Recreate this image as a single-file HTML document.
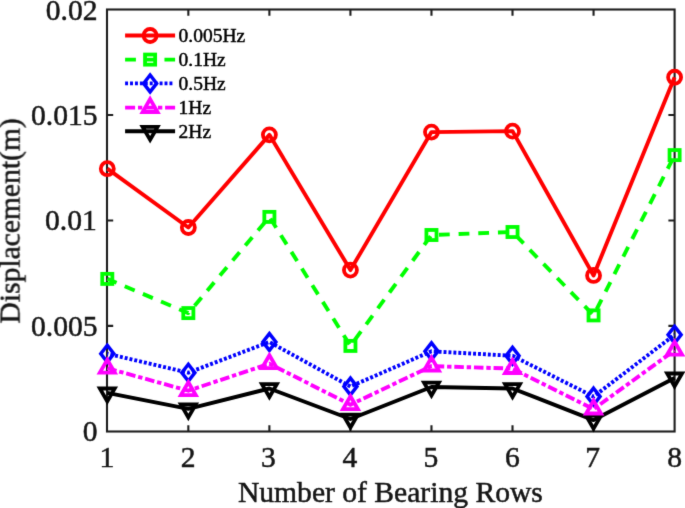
<!DOCTYPE html>
<html><head><meta charset="utf-8"><style>
html,body{margin:0;padding:0;background:#fff;}
svg{display:block;font-family:"Liberation Serif",serif;}
</style></head><body>
<svg width="685" height="508" viewBox="0 0 685 508">
<defs><filter id="bl" x="0" y="0" width="685" height="508" filterUnits="userSpaceOnUse" color-interpolation-filters="sRGB"><feConvolveMatrix order="3" kernelMatrix="0.0100 0.0800 0.0100 0.0800 0.6400 0.0800 0.0100 0.0800 0.0100" edgeMode="duplicate"/></filter></defs>
<rect width="685" height="508" fill="#fff"/>
<g filter="url(#bl)">
<rect x="107.0" y="9.5" width="567.60" height="422.00" fill="#fff" stroke="#1e1e1e" stroke-width="2.1"/>
<path d="M188.34,431.5V425.3M188.34,9.5V15.7M269.39,431.5V425.3M269.39,9.5V15.7M350.43,431.5V425.3M350.43,9.5V15.7M431.47,431.5V425.3M431.47,9.5V15.7M512.51,431.5V425.3M512.51,9.5V15.7M593.56,431.5V425.3M593.56,9.5V15.7M107.0,325.92H113.2M674.6,325.92H668.4M107.0,220.45H113.2M674.6,220.45H668.4M107.0,114.98H113.2M674.6,114.98H668.4" stroke="#1e1e1e" stroke-width="2.1" fill="none"/>
<polyline points="107.30,168.70 188.34,227.50 269.39,134.85 350.43,270.10 431.47,132.10 512.51,131.15 593.56,275.45 674.60,77.25" fill="none" stroke="#ff0000" stroke-width="3.9" stroke-linejoin="round"/>
<circle cx="107.30" cy="168.70" r="6.5" fill="none" stroke="#ff0000" stroke-width="3.8" stroke-linejoin="miter" stroke-miterlimit="10"/>
<circle cx="188.34" cy="227.50" r="6.5" fill="none" stroke="#ff0000" stroke-width="3.8" stroke-linejoin="miter" stroke-miterlimit="10"/>
<circle cx="269.39" cy="134.85" r="6.5" fill="none" stroke="#ff0000" stroke-width="3.8" stroke-linejoin="miter" stroke-miterlimit="10"/>
<circle cx="350.43" cy="270.10" r="6.5" fill="none" stroke="#ff0000" stroke-width="3.8" stroke-linejoin="miter" stroke-miterlimit="10"/>
<circle cx="431.47" cy="132.10" r="6.5" fill="none" stroke="#ff0000" stroke-width="3.8" stroke-linejoin="miter" stroke-miterlimit="10"/>
<circle cx="512.51" cy="131.15" r="6.5" fill="none" stroke="#ff0000" stroke-width="3.8" stroke-linejoin="miter" stroke-miterlimit="10"/>
<circle cx="593.56" cy="275.45" r="6.5" fill="none" stroke="#ff0000" stroke-width="3.8" stroke-linejoin="miter" stroke-miterlimit="10"/>
<circle cx="674.60" cy="77.25" r="6.5" fill="none" stroke="#ff0000" stroke-width="3.8" stroke-linejoin="miter" stroke-miterlimit="10"/>
<polyline points="107.30,278.90 188.34,313.10 269.39,216.90 350.43,345.90 431.47,235.00 512.51,232.00 593.56,315.40 674.60,155.10" fill="none" stroke="#00ff00" stroke-width="3.9" stroke-linejoin="round" stroke-dasharray="10.8 8.88" stroke-dashoffset="0.75"/>
<rect x="102.25" y="273.85" width="10.1" height="10.1" fill="none" stroke="#00ff00" stroke-width="3.8" stroke-linejoin="miter" stroke-miterlimit="10"/>
<rect x="183.29" y="308.05" width="10.1" height="10.1" fill="none" stroke="#00ff00" stroke-width="3.8" stroke-linejoin="miter" stroke-miterlimit="10"/>
<rect x="264.34" y="211.85" width="10.1" height="10.1" fill="none" stroke="#00ff00" stroke-width="3.8" stroke-linejoin="miter" stroke-miterlimit="10"/>
<rect x="345.38" y="340.85" width="10.1" height="10.1" fill="none" stroke="#00ff00" stroke-width="3.8" stroke-linejoin="miter" stroke-miterlimit="10"/>
<rect x="426.42" y="229.95" width="10.1" height="10.1" fill="none" stroke="#00ff00" stroke-width="3.8" stroke-linejoin="miter" stroke-miterlimit="10"/>
<rect x="507.46" y="226.95" width="10.1" height="10.1" fill="none" stroke="#00ff00" stroke-width="3.8" stroke-linejoin="miter" stroke-miterlimit="10"/>
<rect x="588.51" y="310.35" width="10.1" height="10.1" fill="none" stroke="#00ff00" stroke-width="3.8" stroke-linejoin="miter" stroke-miterlimit="10"/>
<rect x="669.55" y="150.05" width="10.1" height="10.1" fill="none" stroke="#00ff00" stroke-width="3.8" stroke-linejoin="miter" stroke-miterlimit="10"/>
<polyline points="107.30,353.70 188.34,372.70 269.39,342.00 350.43,386.50 431.47,351.30 512.51,355.80 593.56,396.60 674.60,334.80" fill="none" stroke="#0000ff" stroke-width="3.9" stroke-linejoin="round" stroke-dasharray="2.95 1.978" stroke-dashoffset="1.856"/>
<path d="M107.30,345.30L113.80,353.70L107.30,362.10L100.80,353.70Z" fill="none" stroke="#0000ff" stroke-width="3.5" stroke-linejoin="miter" stroke-miterlimit="10"/>
<path d="M188.34,364.30L194.84,372.70L188.34,381.10L181.84,372.70Z" fill="none" stroke="#0000ff" stroke-width="3.5" stroke-linejoin="miter" stroke-miterlimit="10"/>
<path d="M269.39,333.60L275.89,342.00L269.39,350.40L262.89,342.00Z" fill="none" stroke="#0000ff" stroke-width="3.5" stroke-linejoin="miter" stroke-miterlimit="10"/>
<path d="M350.43,378.10L356.93,386.50L350.43,394.90L343.93,386.50Z" fill="none" stroke="#0000ff" stroke-width="3.5" stroke-linejoin="miter" stroke-miterlimit="10"/>
<path d="M431.47,342.90L437.97,351.30L431.47,359.70L424.97,351.30Z" fill="none" stroke="#0000ff" stroke-width="3.5" stroke-linejoin="miter" stroke-miterlimit="10"/>
<path d="M512.51,347.40L519.01,355.80L512.51,364.20L506.01,355.80Z" fill="none" stroke="#0000ff" stroke-width="3.5" stroke-linejoin="miter" stroke-miterlimit="10"/>
<path d="M593.56,388.20L600.06,396.60L593.56,405.00L587.06,396.60Z" fill="none" stroke="#0000ff" stroke-width="3.5" stroke-linejoin="miter" stroke-miterlimit="10"/>
<path d="M674.60,326.40L681.10,334.80L674.60,343.20L668.10,334.80Z" fill="none" stroke="#0000ff" stroke-width="3.5" stroke-linejoin="miter" stroke-miterlimit="10"/>
<polyline points="107.30,392.90 188.34,408.90 269.39,388.50 350.43,419.00 431.47,387.00 512.51,388.50 593.56,420.10 674.60,377.90" fill="none" stroke="#000000" stroke-width="3.9" stroke-linejoin="round"/>
<path d="M107.30,401.40L114.75,388.50L99.85,388.50Z" fill="none" stroke="#000000" stroke-width="3.8" stroke-linejoin="miter" stroke-miterlimit="10"/>
<path d="M188.34,417.40L195.79,404.50L180.89,404.50Z" fill="none" stroke="#000000" stroke-width="3.8" stroke-linejoin="miter" stroke-miterlimit="10"/>
<path d="M269.39,397.00L276.84,384.10L261.94,384.10Z" fill="none" stroke="#000000" stroke-width="3.8" stroke-linejoin="miter" stroke-miterlimit="10"/>
<path d="M350.43,427.50L357.88,414.60L342.98,414.60Z" fill="none" stroke="#000000" stroke-width="3.8" stroke-linejoin="miter" stroke-miterlimit="10"/>
<path d="M431.47,395.50L438.92,382.60L424.02,382.60Z" fill="none" stroke="#000000" stroke-width="3.8" stroke-linejoin="miter" stroke-miterlimit="10"/>
<path d="M512.51,397.00L519.96,384.10L505.06,384.10Z" fill="none" stroke="#000000" stroke-width="3.8" stroke-linejoin="miter" stroke-miterlimit="10"/>
<path d="M593.56,428.60L601.01,415.70L586.11,415.70Z" fill="none" stroke="#000000" stroke-width="3.8" stroke-linejoin="miter" stroke-miterlimit="10"/>
<path d="M674.60,386.40L682.05,373.50L667.15,373.50Z" fill="none" stroke="#000000" stroke-width="3.8" stroke-linejoin="miter" stroke-miterlimit="10"/>
<polyline points="107.30,368.20 188.34,390.70 269.39,363.70 350.43,404.70 431.47,366.10 512.51,368.60 593.56,409.10 674.60,350.30" fill="none" stroke="#ff00ff" stroke-width="3.9" stroke-linejoin="round" stroke-dasharray="9.55 2.84 4.39 2.85" stroke-dashoffset="0"/>
<path d="M107.30,359.70L114.75,372.60L99.85,372.60Z" fill="none" stroke="#ff00ff" stroke-width="3.8" stroke-linejoin="miter" stroke-miterlimit="10"/>
<path d="M188.34,382.20L195.79,395.10L180.89,395.10Z" fill="none" stroke="#ff00ff" stroke-width="3.8" stroke-linejoin="miter" stroke-miterlimit="10"/>
<path d="M269.39,355.20L276.84,368.10L261.94,368.10Z" fill="none" stroke="#ff00ff" stroke-width="3.8" stroke-linejoin="miter" stroke-miterlimit="10"/>
<path d="M350.43,396.20L357.88,409.10L342.98,409.10Z" fill="none" stroke="#ff00ff" stroke-width="3.8" stroke-linejoin="miter" stroke-miterlimit="10"/>
<path d="M431.47,357.60L438.92,370.50L424.02,370.50Z" fill="none" stroke="#ff00ff" stroke-width="3.8" stroke-linejoin="miter" stroke-miterlimit="10"/>
<path d="M512.51,360.10L519.96,373.00L505.06,373.00Z" fill="none" stroke="#ff00ff" stroke-width="3.8" stroke-linejoin="miter" stroke-miterlimit="10"/>
<path d="M593.56,400.60L601.01,413.50L586.11,413.50Z" fill="none" stroke="#ff00ff" stroke-width="3.8" stroke-linejoin="miter" stroke-miterlimit="10"/>
<path d="M674.60,341.80L682.05,354.70L667.15,354.70Z" fill="none" stroke="#ff00ff" stroke-width="3.8" stroke-linejoin="miter" stroke-miterlimit="10"/>
<line x1="125.1" y1="35.5" x2="175.1" y2="35.5" stroke="#ff0000" stroke-width="3.9"/>
<circle cx="150.10" cy="35.50" r="6.5" fill="none" stroke="#ff0000" stroke-width="3.8" stroke-linejoin="miter" stroke-miterlimit="10"/>
<text x="178.6" y="42.30" font-size="19.5" fill="#000" stroke="#000" stroke-width="0.45">0.005Hz</text>
<line x1="125.1" y1="59.6" x2="175.1" y2="59.6" stroke="#00ff00" stroke-width="3.9" stroke-dasharray="10.8 8.88"/>
<rect x="145.05" y="54.55" width="10.1" height="10.1" fill="none" stroke="#00ff00" stroke-width="3.8" stroke-linejoin="miter" stroke-miterlimit="10"/>
<text x="178.6" y="66.40" font-size="19.5" fill="#000" stroke="#000" stroke-width="0.45">0.1Hz</text>
<line x1="125.1" y1="83.4" x2="173.5" y2="83.4" stroke="#0000ff" stroke-width="3.9" stroke-dasharray="2.95 1.978"/>
<path d="M150.10,75.00L156.60,83.40L150.10,91.80L143.60,83.40Z" fill="none" stroke="#0000ff" stroke-width="3.5" stroke-linejoin="miter" stroke-miterlimit="10"/>
<text x="178.6" y="90.20" font-size="19.5" fill="#000" stroke="#000" stroke-width="0.45">0.5Hz</text>
<line x1="125.1" y1="107.6" x2="175.1" y2="107.6" stroke="#ff00ff" stroke-width="3.9" stroke-dasharray="10 2.9 4.3 2.8"/>
<path d="M150.10,99.10L157.55,112.00L142.65,112.00Z" fill="none" stroke="#ff00ff" stroke-width="3.8" stroke-linejoin="miter" stroke-miterlimit="10"/>
<text x="178.6" y="114.40" font-size="19.5" fill="#000" stroke="#000" stroke-width="0.45">1Hz</text>
<line x1="125.1" y1="131.3" x2="175.1" y2="131.3" stroke="#000000" stroke-width="3.9"/>
<path d="M150.10,139.80L157.55,126.90L142.65,126.90Z" fill="none" stroke="#000000" stroke-width="3.8" stroke-linejoin="miter" stroke-miterlimit="10"/>
<text x="178.6" y="138.10" font-size="19.5" fill="#000" stroke="#000" stroke-width="0.45">2Hz</text>
<text x="106.90" y="467.2" font-size="29.6" text-anchor="middle" fill="#161616" stroke="#161616" stroke-width="0.5">1</text>
<text x="188.04" y="467.2" font-size="29.6" text-anchor="middle" fill="#161616" stroke="#161616" stroke-width="0.5">2</text>
<text x="268.39" y="467.2" font-size="29.6" text-anchor="middle" fill="#161616" stroke="#161616" stroke-width="0.5">3</text>
<text x="349.83" y="467.2" font-size="29.6" text-anchor="middle" fill="#161616" stroke="#161616" stroke-width="0.5">4</text>
<text x="430.97" y="467.2" font-size="29.6" text-anchor="middle" fill="#161616" stroke="#161616" stroke-width="0.5">5</text>
<text x="512.51" y="467.2" font-size="29.6" text-anchor="middle" fill="#161616" stroke="#161616" stroke-width="0.5">6</text>
<text x="592.56" y="467.2" font-size="29.6" text-anchor="middle" fill="#161616" stroke="#161616" stroke-width="0.5">7</text>
<text x="674.60" y="467.2" font-size="29.6" text-anchor="middle" fill="#161616" stroke="#161616" stroke-width="0.5">8</text>
<text x="97.6" y="441.40" font-size="29.6" text-anchor="end" fill="#161616" stroke="#161616" stroke-width="0.5">0</text>
<text x="97.6" y="335.92" font-size="29.6" text-anchor="end" fill="#161616" stroke="#161616" stroke-width="0.5">0.005</text>
<text x="96.8" y="230.45" font-size="29.6" text-anchor="end" fill="#161616" stroke="#161616" stroke-width="0.5">0.01</text>
<text x="97.6" y="124.98" font-size="29.6" text-anchor="end" fill="#161616" stroke="#161616" stroke-width="0.5">0.015</text>
<text x="97.6" y="19.50" font-size="29.6" text-anchor="end" fill="#161616" stroke="#161616" stroke-width="0.5">0.02</text>
<text x="390.4" y="501.9" font-size="29.6" text-anchor="middle" fill="#161616" stroke="#161616" stroke-width="0.5">Number of Bearing Rows</text>
<text transform="translate(19.6,220.85) rotate(-90)" x="0" y="0" font-size="29.6" text-anchor="middle" fill="#161616" stroke="#161616" stroke-width="0.5">Displacement(m)</text>
</g>
</svg>
</body></html>
